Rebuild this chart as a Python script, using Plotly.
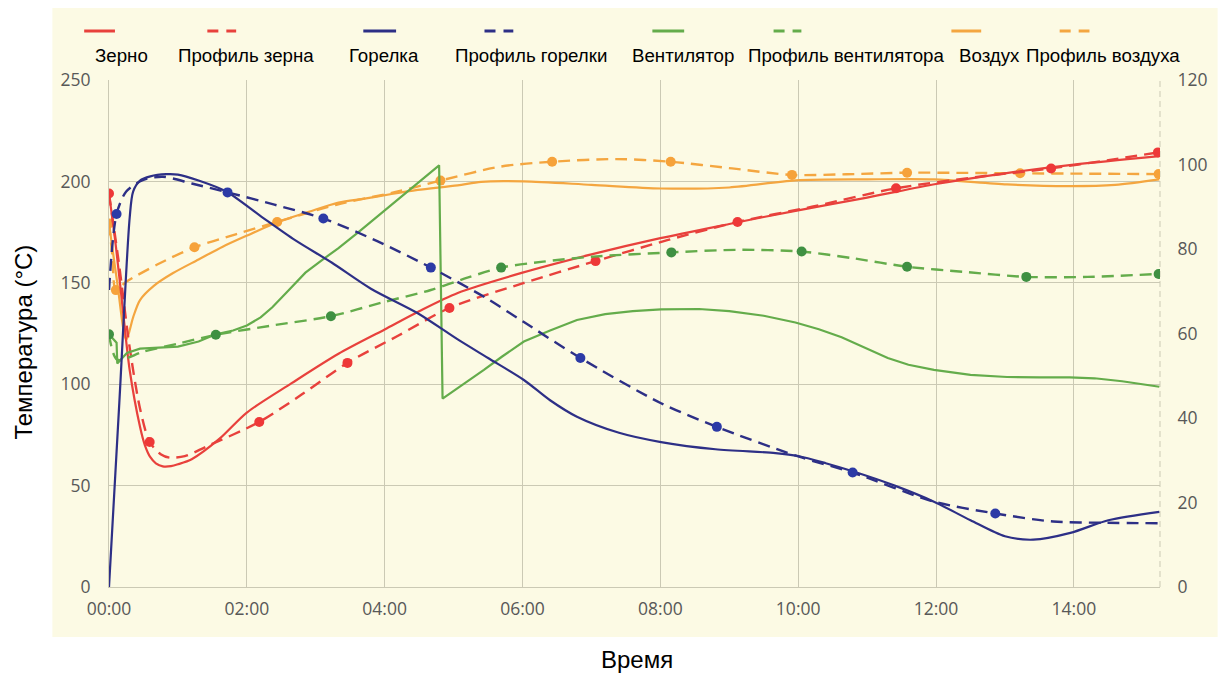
import plotly.graph_objects as go

# ---- time axis (minutes) -------------------------------------------------
x_tick_vals = [0, 2, 4, 6, 8, 10, 12, 14]
x_tick_labels = ["00:00", "02:00", "04:00", "06:00", "08:00", "10:00", "12:00", "14:00"]
x_end = 15.25

# ---- series names ---------------------------------------------------------
series_names = ["Зерно", "Профиль зерна", "Горелка", "Профиль горелки",
                "Вентилятор", "Профиль вентилятора", "Воздух", "Профиль воздуха"]

# ---- grain temperature, °C (left axis) ------------------------------------
grain_t = [0, 0.1, 0.2, 0.3, 0.45, 0.52, 0.6, 0.68, 0.78, 0.9, 1.0, 1.2, 1.6, 2.0, 2.65,
           3.33, 4.0, 4.5, 5.06, 6.0, 7.0, 8.0, 9.0, 9.96, 11.0, 12.0, 13.0, 14.0, 15.24]
grain_v = [194, 168, 137, 107, 79, 70, 64, 61, 59.5, 59.6, 60.5, 63, 73, 86, 100.5,
           115, 127, 136, 145, 155, 164, 172, 179, 185.5, 192, 198.7, 204, 208.3, 212.5]

grain_prof_t = [0, 0.15, 0.3, 0.45, 0.59, 0.75, 0.88, 1.1, 1.41, 2.18, 2.8, 3.46, 4.2, 4.94,
                6.0, 7.06, 8.1, 9.12, 10.2, 11.42, 12.65, 13.67, 14.5, 15.22]
grain_prof_v = [194, 158, 118, 88, 71.5, 65.5, 63.8, 64.5, 69.2, 81.4, 95, 110.5, 124, 137.6,
                149.7, 160.7, 171, 180, 187.5, 196.6, 202.4, 206.4, 210.5, 214.3]
grain_prof_pts_t = [0, 0.59, 2.18, 3.46, 4.94, 7.06, 9.12, 11.42, 13.67, 15.22]
grain_prof_pts_v = [194, 71.5, 81.4, 110.5, 137.6, 160.7, 180, 196.6, 206.4, 214.3]

# ---- burner power, % (right axis) -----------------------------------------
burner_t = [0, 0.15, 0.3, 0.35, 0.45, 0.6, 0.83, 1.0, 1.3, 1.7, 2.2, 2.7, 3.23, 3.8, 4.48,
            5.06, 5.5, 6.02, 6.4, 6.79, 7.4, 8.01, 8.8, 9.67, 10.0, 10.4, 10.79, 11.4,
            11.97, 12.5, 13.0, 13.41, 13.95, 14.5, 15.24]
burner_v = [0, 43.7, 87.4, 93.6, 96.2, 97.2, 97.7, 97.6, 96.2, 93.6, 87.8, 82.1, 76.8, 70.6,
            64.8, 58.6, 54.2, 49.0, 44.2, 40.3, 36.5, 34.3, 32.6, 31.7, 31.0, 29.3, 27.4,
            24.0, 20.2, 15.8, 12.0, 11.2, 12.8, 15.8, 17.8]

burner_prof_t = [0, 0.11, 0.25, 0.49, 0.78, 1.2, 1.72, 2.4, 3.11, 3.9, 4.67, 5.45, 6.02, 6.84,
                 8.01, 8.82, 10.0, 10.79, 11.97, 12.86, 13.7, 14.47, 15.24]
burner_prof_v = [70.3, 88.3, 93.6, 96.3, 97.1, 95.5, 93.4, 90.5, 87.2, 81.8, 75.6, 68.6, 62.7,
                 54.2, 43.5, 37.9, 30.9, 27.1, 20.2, 17.4, 15.5, 15.2, 15.1]
burner_prof_pts_t = [0.11, 1.72, 3.11, 4.67, 6.84, 8.82, 10.79, 12.86]
burner_prof_pts_v = [88.3, 93.4, 87.2, 75.6, 54.2, 37.9, 27.1, 17.4]

# ---- fan speed, % (right axis) --------------------------------------------
fan_t = [0, 0.11, 0.12, 0.26, 0.45, 0.7, 1.0, 1.3, 1.55, 1.8, 2.0, 2.2, 2.37, 2.6, 2.85,
         3.1, 3.33, 3.62, 3.9, 4.2, 4.5, 4.79, 4.84, 5.1, 5.44, 5.7, 6.02, 6.4, 6.79, 7.2,
         7.6, 8.01, 8.56, 9.0, 9.5, 9.96, 10.3, 10.63, 11.0, 11.3, 11.6, 11.97, 12.5,
         13.03, 13.5, 13.94, 14.3, 14.7, 15.24]
fan_v = [59.8, 57.8, 52.9, 55.4, 56.4, 56.6, 56.9, 58.1, 59.8, 60.7, 61.9, 63.8, 66.2, 70.1,
         74.4, 77.5, 80.2, 84.0, 87.8, 91.7, 95.8, 99.8, 44.6, 47.5, 51.4, 54.5, 58.1, 60.7,
         63.2, 64.6, 65.3, 65.7, 65.8, 65.3, 64.2, 62.6, 61.0, 59.1, 56.4, 54.2, 52.6, 51.4,
         50.2, 49.7, 49.6, 49.6, 49.4, 48.7, 47.4]

fan_prof_t = [0, 0.12, 0.5, 1.0, 1.55, 2.37, 3.22, 4.0, 4.67, 5.2, 5.69, 6.3, 7.03, 8.16,
              9.1, 10.05, 10.8, 11.58, 12.4, 13.31, 14.2, 15.23]
fan_prof_v = [59.8, 53.8, 55.7, 57.6, 59.7, 61.9, 64.1, 67.5, 70.3, 73.2, 75.6, 77.0, 78.2,
              79.2, 79.8, 79.4, 77.8, 75.8, 74.6, 73.4, 73.4, 74.1]
fan_prof_pts_t = [0, 1.55, 3.22, 5.69, 8.16, 10.05, 11.58, 13.31, 15.23]
fan_prof_pts_v = [59.8, 59.7, 64.1, 75.6, 79.2, 79.4, 75.8, 73.4, 74.1]

# ---- air temperature, °C (left axis) --------------------------------------
air_t = [0, 0.12, 0.25, 0.35, 0.45, 0.65, 0.93, 1.3, 1.65, 2.05, 2.45, 2.9, 3.33, 3.71, 4.1,
         4.48, 5.06, 5.4, 6.02, 7.0, 8.01, 9.0, 9.96, 11.0, 11.97, 13.03, 13.94, 14.6, 15.24]
air_v = [179.3, 150, 121.8, 133, 141.5, 148.5, 154.8, 161.5, 167.8, 174, 180, 185, 189.5,
         191.5, 193.8, 195.8, 198, 199.8, 200, 198.3, 196.5, 197, 200.5, 201, 201, 198.5,
         197.7, 198.3, 201]

air_prof_t = [0, 0.05, 0.1, 0.25, 0.7, 1.24, 1.85, 2.44, 3.3, 4.19, 4.81, 5.68, 6.43, 7.36,
              8.15, 9.04, 9.91, 10.7, 11.58, 12.4, 13.22, 14.2, 15.23]
air_prof_v = [179.3, 163, 146.4, 150.5, 159, 167.5, 174, 180, 188.5, 195, 200.4, 207.3, 209.7,
              211, 209.7, 206.4, 203.2, 203.5, 204.3, 204.2, 204, 203.8, 203.6]
air_prof_pts_t = [0, 0.1, 1.24, 2.44, 4.81, 6.43, 8.15, 9.91, 11.58, 13.22, 15.23]
air_prof_pts_v = [179.3, 146.4, 167.5, 180, 200.4, 209.7, 209.7, 203.2, 204.3, 204, 203.6]

# ---- styling ----------------------------------------------------------------
RED, RED_DOT = "#E8413C", "#EE3838"
BLUE, BLUE_DOT = "#2D2F86", "#2C3AA6"
GREEN, GREEN_DOT = "#64AC4B", "#3F9042"
ORANGE, ORANGE_DOT = "#F4A640", "#F6A23A"
CREAM = "#FCFAE4"
GRID = "#CBC9B4"
TICK_FONT = dict(family="Open Sans", size=17.5, color="#585858")
DASH = "12px,7px"

fig = go.Figure()


def add_solid(t, v, color, axis, shape="spline"):
    fig.add_trace(go.Scatter(x=t, y=v, mode="lines", yaxis=axis,
                             line=dict(color=color, width=2.2, shape=shape, smoothing=0.8),
                             showlegend=False, hoverinfo="skip"))


def add_profile(t, v, pt, pv, color, dot_color, axis):
    fig.add_trace(go.Scatter(x=t, y=v, mode="lines", yaxis=axis,
                             line=dict(color=color, width=2.4, dash=DASH,
                                       shape="spline", smoothing=0.8),
                             showlegend=False, hoverinfo="skip"))
    fig.add_trace(go.Scatter(x=pt, y=pv, mode="markers", yaxis=axis,
                             marker=dict(color=dot_color, size=10),
                             showlegend=False, hoverinfo="skip"))


add_solid(fan_t, fan_v, GREEN, "y2", shape="linear")
add_profile(fan_prof_t, fan_prof_v, fan_prof_pts_t, fan_prof_pts_v, GREEN, GREEN_DOT, "y2")
add_solid(air_t, air_v, ORANGE, "y")
add_profile(air_prof_t, air_prof_v, air_prof_pts_t, air_prof_pts_v, ORANGE, ORANGE_DOT, "y")
add_solid(burner_t, burner_v, BLUE, "y2")
add_profile(burner_prof_t, burner_prof_v, burner_prof_pts_t, burner_prof_pts_v, BLUE, BLUE_DOT, "y2")
add_solid(grain_t, grain_v, RED, "y")
add_profile(grain_prof_t, grain_prof_v, grain_prof_pts_t, grain_prof_pts_v, RED, RED_DOT, "y")

# ---- geometry of the plotting area (pixels) --------------------------------
W, H = 1220, 673
L, R, T, B = 109, 53, 80, 86
pw, ph = W - L - R, H - T - B


def px(xp):
    return (xp - L) / pw


def py(yp):
    return (H - B - yp) / ph


shapes = [
    # cream panel behind the chart and legend
    dict(type="rect", xref="paper", yref="paper", x0=px(52), x1=px(1225), y0=py(637), y1=py(8),
         fillcolor=CREAM, line=dict(width=0), layer="below"),
    # right axis rule
    dict(type="line", xref="paper", yref="paper", x0=1, x1=1, y0=0, y1=1,
         line=dict(color=GRID, width=1, dash="6px,4px"), layer="below"),
]

# ---- legend: line sample above each label ----------------------------------
legend_colors = [RED, RED, BLUE, BLUE, GREEN, GREEN, ORANGE, ORANGE]
legend_dashed = [False, True, False, True, False, True, False, True]
legend_sample_x = [(84, 115), (208, 237), (365, 398), (487, 516),
                   (656, 688), (778, 806), (957, 987), (1066, 1096)]
legend_label_x = [122, 247, 386, 534, 687, 851, 995, 1110]

annotations = []
for name, col, dashed, (sx0, sx1), lx in zip(series_names, legend_colors, legend_dashed,
                                            legend_sample_x, legend_label_x):
    shapes.append(dict(type="line", xref="paper", yref="paper", x0=px(sx0), x1=px(sx1),
                       y0=py(31), y1=py(31),
                       line=dict(color=col, width=3, dash="11px,8px" if dashed else "solid")))
    annotations.append(dict(text=name, xref="paper", yref="paper", x=px(lx), y=py(56),
                            xanchor="center", yanchor="middle", showarrow=False,
                            font=dict(family="Liberation Sans", size=18.7, color="#000000")))

annotations.append(dict(text="Температура (°C)", xref="paper", yref="paper", x=px(22), y=py(342),
                        xanchor="center", yanchor="middle", textangle=-90, showarrow=False,
                        font=dict(family="Liberation Sans", size=24, color="#000000")))
annotations.append(dict(text="Время", xref="paper", yref="paper", x=px(641), y=py(659),
                        xanchor="center", yanchor="middle", showarrow=False,
                        font=dict(family="Liberation Sans", size=24, color="#000000")))

fig.update_layout(
    width=W, height=H,
    margin=dict(l=L, r=R, t=T, b=B, pad=0),
    paper_bgcolor="#FFFFFF",
    plot_bgcolor=CREAM,
    showlegend=False,
    shapes=shapes,
    annotations=annotations,
    xaxis=dict(range=[0, x_end], tickvals=x_tick_vals, ticktext=x_tick_labels,
               showgrid=True, gridcolor=GRID, gridwidth=1, zeroline=False,
               showline=True, linecolor=GRID, linewidth=1,
               ticks="outside", ticklen=6, tickcolor="rgba(0,0,0,0)",
               tickfont=TICK_FONT),
    yaxis=dict(range=[0, 250], tickvals=[0, 50, 100, 150, 200, 250],
               showgrid=True, gridcolor=GRID, gridwidth=1, zeroline=False,
               showline=True, linecolor=GRID, linewidth=1,
               ticks="outside", ticklen=14, tickcolor="rgba(0,0,0,0)",
               tickfont=TICK_FONT),
    yaxis2=dict(range=[0, 120], tickvals=[0, 20, 40, 60, 80, 100, 120],
                overlaying="y", side="right", showgrid=False, zeroline=False,
                showline=False, ticks="outside", ticklen=13, tickcolor="rgba(0,0,0,0)",
                tickfont=TICK_FONT),
)

fig.write_html("out.html")
